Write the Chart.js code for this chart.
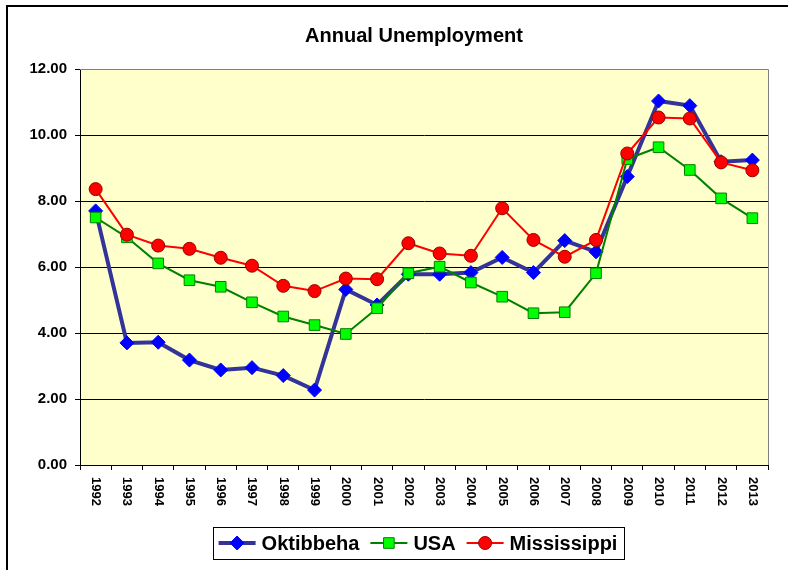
<!DOCTYPE html>
<html>
<head>
<meta charset="utf-8">
<script src="https://cdn.jsdelivr.net/npm/chart.js@4/dist/chart.umd.min.js"></script>
<style>
  html, body { margin: 0; padding: 0; background: #fff; }
</style>
</head>
<body>
<canvas id="chart" width="788" height="570"></canvas>
<script>
const years = ["1992", "1993", "1994", "1995", "1996", "1997", "1998", "1999", "2000", "2001", "2002",
  "2003", "2004", "2005", "2006", "2007", "2008", "2009", "2010", "2011", "2012", "2013"];
const oktibbeha = [7.7, 3.7, 3.72, 3.18, 2.88, 2.95, 2.71, 2.27, 5.32, 4.85, 5.78,
  5.78, 5.83, 6.29, 5.83, 6.8, 6.46, 8.74, 11.03, 10.89, 9.19, 9.24];
const usa = [7.5, 6.9, 6.11, 5.6, 5.4, 4.93, 4.5, 4.24, 3.97, 4.75, 5.81,
  6.01, 5.53, 5.1, 4.6, 4.63, 5.81, 9.27, 9.63, 8.94, 8.08, 7.48];
const mississippi = [8.36, 6.98, 6.65, 6.55, 6.28, 6.04, 5.43, 5.27, 5.65, 5.63, 6.72,
  6.41, 6.34, 7.78, 6.82, 6.31, 6.82, 9.44, 10.53, 10.5, 9.17, 8.93];
const yTicks = [0, 2, 4, 6, 8, 10, 12];

const FONT = "Arial, 'Liberation Sans', sans-serif";

// white page, outer frame and the yellow plot area
const background = {
  id: "background",
  afterLayout(chart) {
    // title sits a little right of the canvas centre in the original
    chart.titleBlock.left += 30;
    chart.titleBlock.right += 30;
  },
  beforeDraw(chart) {
    const { ctx, chartArea: a } = chart;
    ctx.save();
    ctx.fillStyle = "#fff";
    ctx.fillRect(0, 0, chart.width, chart.height);
    ctx.strokeStyle = "#000";
    ctx.lineWidth = 2;
    ctx.beginPath();
    ctx.moveTo(7, chart.height + 5);
    ctx.lineTo(7, 6);
    ctx.lineTo(chart.width + 5, 6);
    ctx.stroke();
    ctx.fillStyle = "#FFFFCC";
    ctx.fillRect(a.left, a.top, a.right - a.left, a.bottom - a.top);
    ctx.restore();
  },
  beforeDatasetsDraw(chart) {
    const { ctx, chartArea: a } = chart;
    ctx.save();
    ctx.strokeStyle = "#808080";
    ctx.lineWidth = 1;
    ctx.beginPath();
    ctx.moveTo(a.left, a.top + 0.5);
    ctx.lineTo(a.right + 0.5, a.top + 0.5);
    ctx.lineTo(a.right + 0.5, a.bottom);
    ctx.stroke();
    ctx.restore();
  }
};

// year labels turned clockwise, and the boxed legend with line + marker
const extras = {
  id: "extras",
  afterDraw(chart) {
    const { ctx } = chart;
    const x = chart.scales.x;
    ctx.save();
    ctx.fillStyle = "#000";
    ctx.font = "bold 13px " + FONT;
    ctx.textAlign = "left";
    ctx.textBaseline = "middle";
    x.ticks.forEach((t, i) => {
      ctx.save();
      ctx.translate(x.getPixelForTick(i), x.top + 12);
      ctx.rotate(Math.PI / 2);
      ctx.fillText(years[i], 0, 0);
      ctx.restore();
    });

    ctx.font = "bold 20px " + FONT;
    const sets = chart.data.datasets;
    const widths = sets.map(d => ctx.measureText(d.label).width);
    const lineLen = 37, gapText = 6, gapItem = 11, pad = 6;
    let total = pad * 2 + gapItem * (sets.length - 1);
    widths.forEach(w => total += lineLen + gapText + w);
    let cx = 418 - total / 2;
    const top = 527, h = 32, cy = top + h / 2;
    ctx.strokeStyle = "#000";
    ctx.lineWidth = 1;
    ctx.strokeRect(Math.round(cx) + 0.5, top + 0.5, Math.round(total), h);
    cx += pad;
    sets.forEach((d, i) => {
      ctx.strokeStyle = d.borderColor;
      ctx.lineWidth = d.borderWidth;
      ctx.beginPath();
      ctx.moveTo(cx, cy);
      ctx.lineTo(cx + lineLen, cy);
      ctx.stroke();
      ctx.fillStyle = d.pointBackgroundColor;
      ctx.strokeStyle = d.pointBorderColor;
      ctx.lineWidth = 1;
      Chart.helpers.drawPoint(ctx, {
        pointStyle: d.pointStyle, radius: d.pointRadius, rotation: 0, borderWidth: 1
      }, cx + lineLen / 2, cy);
      ctx.fillStyle = "#000";
      ctx.textAlign = "left";
      ctx.textBaseline = "middle";
      ctx.fillText(d.label, cx + lineLen + gapText, cy + 1);
      cx += lineLen + gapText + widths[i] + gapItem;
    });
    ctx.restore();
  }
};

new Chart(document.getElementById("chart"), {
  type: "line",
  data: {
    labels: years,
    datasets: [
      {
        label: "Oktibbeha",
        data: oktibbeha,
        borderColor: "#333399",
        borderWidth: 4,
        pointStyle: "rectRot",
        pointRadius: 7,
        pointBackgroundColor: "#0000FF",
        pointBorderColor: "#0000FF",
        pointBorderWidth: 1,
        order: 3,
      },
      {
        label: "USA",
        data: usa,
        borderColor: "#008000",
        borderWidth: 2,
        pointStyle: "rect",
        pointRadius: 7.5,
        pointBackgroundColor: "#00FF00",
        pointBorderColor: "#008000",
        pointBorderWidth: 1,
        order: 2,
      },
      {
        label: "Mississippi",
        data: mississippi,
        borderColor: "#FF0000",
        borderWidth: 2,
        pointStyle: "circle",
        pointRadius: 6.5,
        pointBackgroundColor: "#FF0000",
        pointBorderColor: "#990000",
        pointBorderWidth: 1,
        order: 1,
      },
    ],
  },
  options: {
    responsive: false,
    animation: false,
    layout: { padding: { left: 0, right: 20, top: 0, bottom: 0 } },
    elements: { line: { tension: 0, fill: false } },
    plugins: {
      legend: { display: false },
      tooltip: { enabled: false },
      title: {
        display: true,
        text: "Annual Unemployment",
        color: "#000",
        font: { family: FONT, size: 20, weight: "bold" },
        padding: { top: 24, bottom: 21 },
      },
    },
    scales: {
      x: {
        offset: true,
        afterFit(scale) { scale.height = 105; },
        grid: {
          display: true,
          offset: true,
          drawOnChartArea: false,
          drawTicks: true,
          tickLength: 5,
          tickColor: "#000",
        },
        border: { display: true, color: "#000", width: 1 },
        ticks: { display: false },
      },
      y: {
        min: 0,
        max: 12,
        afterFit(scale) { scale.width = 80; },
        afterBuildTicks(scale) { scale.ticks = yTicks.map(v => ({ value: v })); },
        grid: {
          color: ctx => (ctx.tick && ctx.tick.value === 12 ? "#808080" : "#000"),
          lineWidth: 1,
          tickLength: 5,
          tickColor: "#000",
        },
        border: { display: true, color: "#000", width: 1 },
        ticks: {
          color: "#000",
          padding: 8,
          font: { family: FONT, size: 15, weight: "bold" },
          callback: v => v.toFixed(2),
        },
      },
    },
  },
  plugins: [background, extras],
});
</script>
</body>
</html>
